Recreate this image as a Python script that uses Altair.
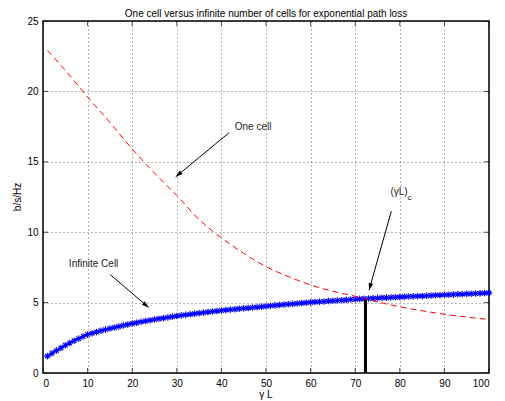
import math
import altair as alt
import pandas as pd

TITLE = "One cell versus infinite number of cells for exponential path loss"
X_TITLE = "γ L"
Y_TITLE = "b/s/Hz"
X_TICKS = list(range(0, 101, 10))
Y_TICKS = list(range(0, 26, 5))

# Infinite cell (blue, asterisk markers)
blue_x = list(range(1, 101))
blue_y = [
    1.20, 1.40, 1.59, 1.78, 1.97, 2.13, 2.29, 2.44, 2.59, 2.73,
    2.82, 2.91, 3.00, 3.08, 3.16, 3.23, 3.30, 3.37, 3.44, 3.51,
    3.57, 3.63, 3.69, 3.75, 3.80, 3.85, 3.90, 3.95, 4.00, 4.05,
    4.09, 4.13, 4.17, 4.21, 4.25, 4.29, 4.33, 4.37, 4.40, 4.44,
    4.47, 4.50, 4.53, 4.56, 4.59, 4.62, 4.65, 4.68, 4.71, 4.74,
    4.77, 4.80, 4.83, 4.86, 4.88, 4.91, 4.94, 4.97, 4.99, 5.02,
    5.04, 5.06, 5.08, 5.11, 5.13, 5.15, 5.17, 5.19, 5.22, 5.24,
    5.26, 5.27, 5.29, 5.31, 5.32, 5.34, 5.35, 5.37, 5.38, 5.40,
    5.41, 5.43, 5.44, 5.46, 5.47, 5.49, 5.50, 5.52, 5.53, 5.55,
    5.56, 5.58, 5.59, 5.60, 5.62, 5.63, 5.65, 5.66, 5.68, 5.69,
]

# One cell (red dashed)
red_x = [1, 5, 10, 15, 20, 25, 30, 35, 40, 45, 50, 55, 60, 65, 70, 75, 80, 85, 90, 95, 100]
red_y = [22.9, 21.5, 19.6, 17.8, 15.9, 14.2, 12.6, 10.9, 9.6, 8.5, 7.55, 6.85, 6.25,
         5.8, 5.45, 5.05, 4.7, 4.42, 4.17, 3.97, 3.8]

# critical (gamma L)_c marker
crit_x = [72.3]
crit_y0 = [0.0]
crit_y1 = [5.2]

# annotations
ann_text = ["One cell", "Infinite Cell", "(γL)"]
ann_x = [43.0, 5.8, 77.9]
ann_y = [17.46, 7.71, 12.84]
sub_text = ["c"]
sub_x = [81.7]
sub_y = [12.45]

arr_x1 = [41.7, 15.07, 78.1]
arr_y1 = [17.06, 6.99, 11.49]
arr_x2 = [29.75, 23.7, 73.1]
arr_y2 = [13.93, 4.65, 5.88]

W, H = 446, 352
FONT = "Liberation Sans"

xs = alt.Scale(domain=[0, 100], nice=False, zero=False)
ys = alt.Scale(domain=[0, 25], nice=False, zero=False)
X = alt.X("x:Q", scale=xs, title=None,
          axis=alt.Axis(values=X_TICKS, format="d", tickSize=0, labelPadding=5, domain=False))
Y = alt.Y("y:Q", scale=ys, title=None,
          axis=alt.Axis(values=Y_TICKS, format="d", tickSize=0, labelPadding=5, domain=False))

blue_df = pd.DataFrame({"x": blue_x, "y": blue_y})
red_df = pd.DataFrame({"x": red_x, "y": red_y})
crit_df = pd.DataFrame({"x": crit_x, "y": crit_y0, "y2": crit_y1})
ann_df = pd.DataFrame({"x": ann_x, "y": ann_y, "t": ann_text})
sub_df = pd.DataFrame({"x": sub_x, "y": sub_y, "t": sub_text})

angles = []
for a, b, c, d in zip(arr_x1, arr_y1, arr_x2, arr_y2):
    dx = (c - a) * W / 100.0
    dy = -(d - b) * H / 25.0
    angles.append((math.degrees(math.atan2(dx, -dy)) + 360) % 360)
arr_df = pd.DataFrame({"x": arr_x1, "y": arr_y1, "x2": arr_x2, "y2": arr_y2})
head_df = pd.DataFrame({"x": arr_x2, "y": arr_y2, "ang": angles})

tick_top = pd.DataFrame({"x": X_TICKS + X_TICKS, "y": [25] * len(X_TICKS) + [0] * len(X_TICKS)})
tick_side = pd.DataFrame({"x": [0] * len(Y_TICKS) + [100] * len(Y_TICKS), "y": Y_TICKS + Y_TICKS})

ASTER = "M-1,0L1,0M0,-1L0,1M-0.7,-0.7L0.7,0.7M-0.7,0.7L0.7,-0.7"
HEAD = "M0,0L-0.32,1L0.32,1Z"

base_layer = alt.Chart(blue_df).mark_line(color="#0000ff", strokeWidth=1.5).encode(x=X, y=Y)
blue_pts = alt.Chart(blue_df).mark_point(shape=ASTER, filled=False, color="#0000ff",
                                         size=44, strokeWidth=1.1, opacity=1).encode(x=X, y=Y)
red_line = alt.Chart(red_df).mark_line(color="#ff0000", strokeWidth=1, strokeDash=[6, 4],
                                       interpolate="monotone").encode(x=X, y=Y)
crit = alt.Chart(crit_df).mark_rule(color="black", strokeWidth=3).encode(
    x=X, y=Y, y2=alt.Y2("y2:Q"))
arrows = alt.Chart(arr_df).mark_rule(color="black", strokeWidth=1).encode(
    x=X, y=Y, x2=alt.X2("x2:Q"), y2=alt.Y2("y2:Q"))
heads = alt.Chart(head_df).mark_point(shape=HEAD, filled=True, color="black", size=200,
                                      opacity=1).encode(x=X, y=Y, angle=alt.Angle("ang:Q", scale=None))
texts = alt.Chart(ann_df).mark_text(align="left", baseline="middle", font=FONT, fontSize=10,
                                    color="#222").encode(x=X, y=Y, text="t:N")
subs = alt.Chart(sub_df).mark_text(align="left", baseline="middle", font=FONT, fontSize=8,
                                   color="#222").encode(x=X, y=Y, text="t:N")
ticks_v = alt.Chart(tick_top).mark_tick(orient="vertical", size=10, thickness=1, color="black",
                                        clip=True).encode(x=X, y=Y)
ticks_h = alt.Chart(tick_side).mark_tick(orient="horizontal", size=10, thickness=1, color="black",
                                         clip=True).encode(x=X, y=Y)

title_df = pd.DataFrame({"t": [TITLE]})
title_mark = alt.Chart(title_df).mark_text(font=FONT, fontSize=10, color="black", align="center",
                                           baseline="alphabetic").encode(
    x=alt.value(W / 2), y=alt.value(-4.5), text="t:N")
xt_df = pd.DataFrame({"t": [X_TITLE]})
xt_mark = alt.Chart(xt_df).mark_text(font=FONT, fontSize=10, color="black", align="center",
                                     baseline="middle").encode(
    x=alt.value(W / 2), y=alt.value(H + 21.5), text="t:N")
yt_df = pd.DataFrame({"t": [Y_TITLE]})
yt_mark = alt.Chart(yt_df).mark_text(font=FONT, fontSize=10, color="black", align="center",
                                     baseline="middle", angle=270).encode(
    x=alt.value(-25), y=alt.value(H / 2), text="t:N")

chart = alt.layer(base_layer, blue_pts, red_line, crit, arrows, heads, texts, subs,
                  ticks_v, ticks_h, title_mark, xt_mark, yt_mark).properties(
    width=W, height=H,
    autosize=alt.AutoSizeParams(type="none"),
    padding={"left": 35, "top": 13, "right": 8, "bottom": 28},
).configure_view(stroke="black", strokeWidth=1.5).configure_axis(
    grid=True, gridColor="#000000", gridDash=[1, 3], gridOpacity=0.55, gridWidth=1,
    labelFont=FONT, labelFontSize=10, labelColor="black",
)

chart.save("out.html", embed_options={"renderer": "svg", "actions": False})
